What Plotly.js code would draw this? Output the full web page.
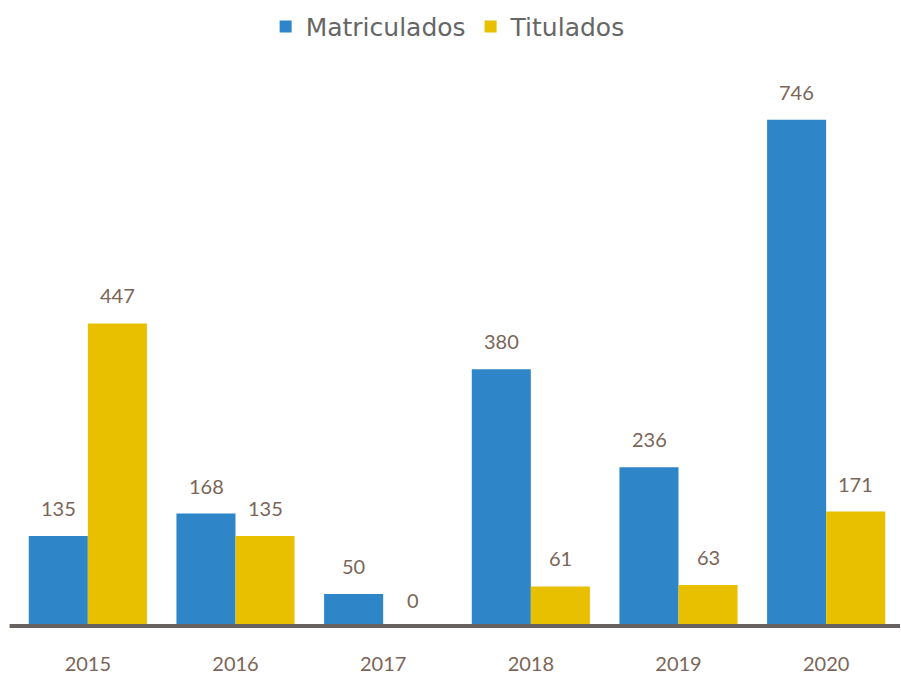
<!DOCTYPE html>
<html>
<head>
<meta charset="utf-8">
<script src="https://cdn.plot.ly/plotly-3.0.1.min.js"></script>
<style>html,body{margin:0;padding:0;background:#fff;}#chart{width:901px;height:675px;}</style>
</head>
<body>
<div id="chart"></div>
<script>
const years = ["2015", "2016", "2017", "2018", "2019", "2020"];
const matriculados = [135, 168, 50, 380, 236, 746];
const titulados = [447, 135, 0, 61, 63, 171];
const seriesNames = ["Matriculados", "Titulados"];

const blue = "#2E86C8";
const yellow = "#E8C000";
const labelColor = "#7B6558";

const traces = [
  {type: "bar", name: seriesNames[0], x: years, y: matriculados, marker: {color: blue}, hoverinfo: "none"},
  {type: "bar", name: seriesNames[1], x: years, y: titulados, marker: {color: yellow}, hoverinfo: "none"}
];

const annotations = [];
years.forEach((yr, i) => {
  annotations.push({x: i, y: matriculados[i], xref: "x", yref: "y", text: String(matriculados[i]),
    showarrow: false, xshift: -29.5, yshift: 28, font: {family: "Lato, 'Open Sans', sans-serif", size: 20, color: labelColor}});
  annotations.push({x: i, y: titulados[i], xref: "x", yref: "y", text: String(titulados[i]),
    showarrow: false, xshift: 29.5, yshift: 28, font: {family: "Lato, 'Open Sans', sans-serif", size: 20, color: labelColor}});
});

const layout = {
  width: 901, height: 675,
  margin: {l: 14, r: 1, t: 83, b: 47},
  paper_bgcolor: "#fff", plot_bgcolor: "#fff",
  barmode: "group", bargap: 0.2, bargroupgap: 0,
  showlegend: true,
  legend: {orientation: "h", x: 0.49, xanchor: "center", y: 1.103, yanchor: "middle",
    font: {family: "'DejaVu Sans', sans-serif", size: 25, color: "#666"}, itemwidth: 30, traceorder: "normal"},
  xaxis: {type: "category", range: [-0.5, years.length - 0.5], autorange: false, showgrid: false, zeroline: false, showline: false, ticks: "",
    ticklabelstandoff: 22, tickfont: {family: "Lato, 'Open Sans', sans-serif", size: 20, color: labelColor}},
  yaxis: {range: [0, 800], autorange: false, visible: false, showgrid: false, zeroline: false},
  shapes: [{type: "line", xref: "paper", yref: "y", x0: -0.005, x1: 1, y0: 0, y1: 0,
    line: {color: "#676260", width: 8}}],
  annotations: annotations
};

Plotly.newPlot("chart", traces, layout, {displayModeBar: false, staticPlot: true});
</script>
</body>
</html>
